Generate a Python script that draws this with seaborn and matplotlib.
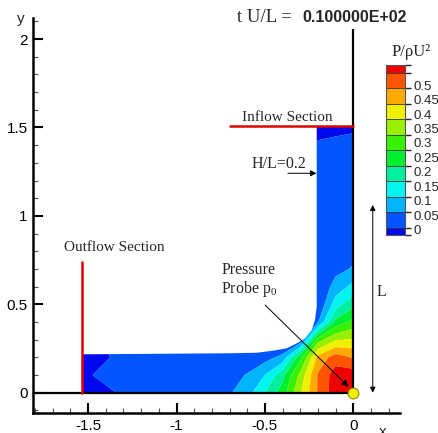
import numpy as np
import pandas as pd
import matplotlib
matplotlib.use("Agg")
import matplotlib as mpl
import matplotlib.pyplot as plt
from matplotlib.colors import ListedColormap, BoundaryNorm
from matplotlib.patches import Polygon
from matplotlib.ticker import MultipleLocator, FixedLocator
import seaborn as sns

# ---------------- data ----------------
legend_levels = [0, 0.05, 0.1, 0.15, 0.2, 0.25, 0.3, 0.35, 0.4, 0.45, 0.5]
legend_labels = ["0", "0.05", "0.1", "0.15", "0.2", "0.25", "0.3", "0.35", "0.4", "0.45", "0.5"]
band_bounds = [0, 0.025, 0.075, 0.125, 0.175, 0.225, 0.275, 0.325, 0.375, 0.425, 0.475, 0.525, 0.55]
band_colors = ["#0008F0", "#0055FF", "#00B4FF", "#00F5F0", "#00F0A0", "#00F030",
               "#38F000", "#98F000", "#F0F000", "#FFAA00", "#FF5500", "#F00000"]

# pressure samples P/rhoU^2 on a coarse grid (rows = y, columns = x)
grid_x = [-1.55, -1.3, -1.1, -0.9, -0.8, -0.7, -0.6, -0.5, -0.4, -0.3, -0.2, -0.1, 0.0]
grid_y = [0.0, 0.1, 0.2, 0.3, 0.4, 0.5, 0.6, 0.7, 0.8, 0.9, 1.0, 1.2, 1.4, 1.52]
pressure = [
    [0.020, 0.026, 0.040, 0.050, 0.058, 0.070, 0.105, 0.175, 0.250, 0.370, 0.480, 0.555, 0.580],
    [0.022, 0.032, 0.038, 0.045, 0.050, 0.058, 0.078, 0.125, 0.210, 0.340, 0.480, 0.550, 0.555],
    [0.018, 0.028, 0.032, 0.036, 0.040, 0.042, 0.045, 0.055, 0.090, 0.260, 0.440, 0.500, 0.470],
    [0.020, 0.030, 0.030, 0.030, 0.030, 0.030, 0.030, 0.020, 0.010, 0.030, 0.300, 0.370, 0.380],
    [0.020, 0.030, 0.030, 0.030, 0.030, 0.030, 0.030, 0.010, 0.000, 0.000, 0.070, 0.240, 0.290],
    [0.020, 0.030, 0.030, 0.030, 0.030, 0.030, 0.030, 0.000, 0.000, 0.000, 0.030, 0.150, 0.210],
    [0.020, 0.030, 0.030, 0.030, 0.030, 0.030, 0.030, 0.000, 0.000, 0.000, 0.030, 0.095, 0.140],
    [0.020, 0.030, 0.030, 0.030, 0.030, 0.030, 0.030, 0.000, 0.000, 0.000, 0.030, 0.060, 0.080],
    [0.020, 0.030, 0.030, 0.030, 0.030, 0.030, 0.030, 0.000, 0.000, 0.000, 0.030, 0.045, 0.060],
    [0.020, 0.030, 0.030, 0.030, 0.030, 0.030, 0.030, 0.000, 0.000, 0.000, 0.030, 0.040, 0.050],
    [0.020, 0.030, 0.030, 0.030, 0.030, 0.030, 0.030, 0.000, 0.000, 0.000, 0.030, 0.038, 0.045],
    [0.020, 0.030, 0.030, 0.030, 0.030, 0.030, 0.030, 0.000, 0.000, 0.000, 0.030, 0.035, 0.040],
    [0.020, 0.030, 0.030, 0.030, 0.030, 0.030, 0.030, 0.000, 0.000, 0.000, 0.028, 0.032, 0.034],
    [0.020, 0.030, 0.030, 0.030, 0.030, 0.030, 0.030, 0.000, 0.000, 0.000, 0.015, 0.015, 0.018],
]

# fluid domain: free surface from the inflow down to the outflow channel
surface_x = [-0.207, -0.207, -0.217, -0.235, -0.273, -0.320, -0.377, -0.452, -0.546, -0.697, -1.533]
surface_y = [1.505, 0.486, 0.411, 0.355, 0.308, 0.279, 0.251, 0.238, 0.226, 0.223, 0.217]
outflow_x = -1.533
outflow_top = 0.741
inflow_y = 1.51
inflow_left = -0.697
wall_top = 2.055

x_major = [-1.5, -1, -0.5, 0]
x_major_labels = ["-1.5", "-1", "-0.5", "0"]
y_major = [0, 0.5, 1, 1.5, 2]
y_major_labels = ["0", "0.5", "1", "1.5", "2"]

# ---------------- style ----------------
sns.set_theme(style="ticks")
plt.rcParams["font.family"] = ["Liberation Sans", "DejaVu Sans"]
plt.rcParams["axes.unicode_minus"] = False
plt.rcParams["mathtext.fontset"] = "custom"
plt.rcParams["mathtext.rm"] = "Liberation Serif"
plt.rcParams["mathtext.it"] = "Liberation Serif:italic"
SERIF = ["Liberation Serif", "DejaVu Serif"]

fig = plt.figure(figsize=(4.39, 4.33), dpi=100)
fig.patch.set_facecolor("white")
ax = fig.add_axes([33.3 / 439, (433 - 413.3) / 433, (400 - 33.3) / 439, (413.3 - 18.3) / 433])
ax.set_facecolor("white")
ax.set_xlim(-1.81, 0.264)
ax.set_ylim(-0.1165, 2.1176)

# filled pressure contours, clipped to the fluid region
X, Y = np.meshgrid(grid_x, grid_y)
P = np.array(pressure)
contour_levels = [-1.0] + band_bounds[1:-1] + [1.0]
cs = ax.contourf(X, Y, P, levels=contour_levels, colors=band_colors, antialiased=True, zorder=1)
domain = [(outflow_x, 0.0), (0.0, 0.0), (0.0, surface_y[0])] + list(zip(surface_x, surface_y))
clip = Polygon(domain, closed=True, transform=ax.transData, facecolor="none", edgecolor="none")
ax.add_patch(clip)
cs.set_clip_path(clip)

# walls
ax.plot([0, 0], [0, wall_top], color="black", lw=1.6, zorder=4, solid_capstyle="butt")
ax.plot([-1.81, 0], [0, 0], color="black", lw=1.6, zorder=4, solid_capstyle="butt")

# sections (seaborn lines)
sec = pd.DataFrame({"x": [inflow_left, 0.0], "y": [inflow_y, inflow_y]})
sns.lineplot(data=sec, x="x", y="y", color="#E00000", lw=1.8, ax=ax, zorder=5)
sec2 = pd.DataFrame({"x": [outflow_x, outflow_x], "y": [0.0, outflow_top]})
sns.lineplot(data=sec2, x="x", y="y", color="#E00000", lw=1.8, ax=ax, zorder=5,
             orient="y", estimator=None)

# pressure probe
n_before = len(ax.collections)
probe = pd.DataFrame({"x": [0.0], "y": [0.0]})
sns.scatterplot(data=probe, x="x", y="y", s=60, color="#F0F000", edgecolor="#8C8C00",
                linewidth=0.8, ax=ax, zorder=6, legend=False)
for c in ax.collections[n_before:]:
    c.set_clip_on(False)
ax.set_xlabel("")
ax.set_ylabel("")

# annotations
ax.text(-0.372, 1.557, "Inflow Section", family=SERIF, fontsize=11, ha="center", va="center")
ax.text(-1.354, 0.821, "Outflow Section", family=SERIF, fontsize=11, ha="center", va="center")
ax.text(-0.423, 1.292, "H/L=0.2", family=SERIF, fontsize=11.5, ha="center", va="center")
ax.annotate("", xy=(-0.208, 1.241), xytext=(-0.37, 1.241),
            arrowprops=dict(arrowstyle="-|>", color="black", lw=0.7, mutation_scale=9,
                            shrinkA=0, shrinkB=0))
ax.text(-0.59, 0.635, "Pressure\nProbe p$_0$", family=SERIF, fontsize=11.5, ha="center",
        va="center", linespacing=1.1)
ax.annotate("", xy=(-0.028, 0.034), xytext=(-0.499, 0.496),
            arrowprops=dict(arrowstyle="-|>", color="black", lw=0.7, mutation_scale=10,
                            shrinkA=0, shrinkB=0))
ax.annotate("", xy=(0.11, 0.0), xytext=(0.11, 1.062),
            arrowprops=dict(arrowstyle="<|-|>", color="black", lw=0.7, mutation_scale=8,
                            shrinkA=0, shrinkB=0), annotation_clip=False)
ax.text(0.162, 0.571, "L", family=SERIF, fontsize=11.5, ha="center", va="center")

# axes / ticks
sns.despine(ax=ax)
for side in ["left", "bottom"]:
    ax.spines[side].set_linewidth(1.8)
    ax.spines[side].set_color("black")
ax.xaxis.set_major_locator(FixedLocator(x_major))
ax.set_xticklabels(x_major_labels)
ax.yaxis.set_major_locator(FixedLocator(y_major))
ax.set_yticklabels(y_major_labels)
ax.xaxis.set_minor_locator(MultipleLocator(0.1))
ax.yaxis.set_minor_locator(MultipleLocator(0.1))
ax.tick_params(which="major", direction="in", length=7, width=1.5, color="black",
               labelsize=11, pad=4, labelcolor="black")
ax.tick_params(which="minor", direction="in", length=3.5, width=0.8, color="#555555")
fig.text(21 / 439, 1 - 19 / 433, "y", fontsize=11, ha="center", va="center")
fig.text(383 / 439, 1.5 / 433, "x", fontsize=11, ha="center", va="center")

# title
fig.text(237 / 439, 1 - 17 / 433, "t U/L =", family=SERIF, fontsize=13.5, ha="left", va="center")
fig.text(302 / 439, 1 - 17 / 433, "0.100000E+02", fontsize=11.5, fontweight="bold",
         ha="left", va="center")

# legend (colour bar)
cax = fig.add_axes([386 / 439, (433 - 235.3) / 433, 19 / 439, 170 / 433])
cmap = ListedColormap(band_colors)
norm = BoundaryNorm(band_bounds, cmap.N)
tick_pos = [0.019 + 0.933 * v for v in legend_levels]
cb = mpl.colorbar.ColorbarBase(cax, cmap=cmap, norm=norm, boundaries=band_bounds,
                               spacing="proportional", drawedges=True, ticks=tick_pos)
cb.set_ticklabels(legend_labels)
cb.outline.set_linewidth(0.8)
cb.outline.set_edgecolor("#555555")
cb.dividers.set_color("#333333")
cb.dividers.set_linewidth(0.6)
cax.tick_params(length=0, labelsize=9.5, pad=6)
fig.text(411 / 439, 1 - 52 / 433, "P/ρU²", family=SERIF, fontsize=12, ha="center", va="center")

fig.savefig("out.png", dpi=100, facecolor="white")
